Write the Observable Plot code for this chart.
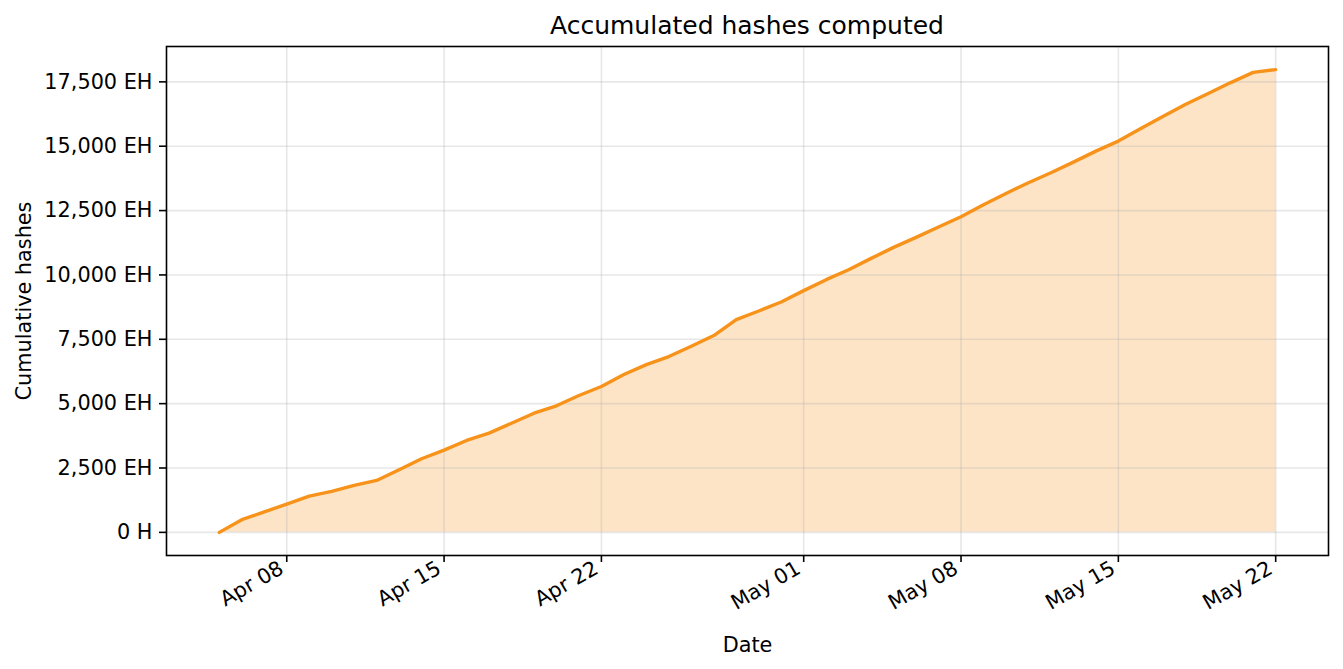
<!DOCTYPE html>
<html>
<head>
<meta charset="utf-8">
<script src="https://cdn.jsdelivr.net/npm/d3@7"></script>
<script src="https://cdn.jsdelivr.net/npm/@observablehq/plot@0.6"></script>
<style>
  html, body { margin: 0; padding: 0; background: #fff; }
  #title {
    box-sizing: border-box;
    width: 1343px;
    height: 41px;
    padding: 11px 15px 0 166px;
    line-height: 30px;
    text-align: center;
    font-family: "DejaVu Sans", sans-serif;
    font-size: 25px;
    color: #000;
  }
</style>
</head>
<body>
<div id="title">Accumulated hashes computed</div>
<div id="chart"></div>
<script>
const dates = [
  "2024-04-05","2024-04-06","2024-04-07","2024-04-08","2024-04-09","2024-04-10","2024-04-11","2024-04-12",
  "2024-04-13","2024-04-14","2024-04-15","2024-04-16","2024-04-17","2024-04-18","2024-04-19","2024-04-20",
  "2024-04-21","2024-04-22","2024-04-23","2024-04-24","2024-04-25","2024-04-26","2024-04-27","2024-04-28",
  "2024-04-29","2024-04-30","2024-05-01","2024-05-02","2024-05-03","2024-05-04","2024-05-05","2024-05-06",
  "2024-05-07","2024-05-08","2024-05-09","2024-05-10","2024-05-11","2024-05-12","2024-05-13","2024-05-14",
  "2024-05-15","2024-05-16","2024-05-17","2024-05-18","2024-05-19","2024-05-20","2024-05-21","2024-05-22"
];
// cumulative hashes, in EH
const cumulativeEH = [
  0, 493, 795, 1098, 1409, 1591, 1824, 2018,
  2432, 2859, 3193, 3570, 3853, 4241, 4629, 4916,
  5316, 5665, 6130, 6518, 6829, 7230, 7644, 8264,
  8600, 8950, 9390, 9816, 10204, 10643, 11070, 11458,
  11860, 12260, 12726, 13165, 13580, 13968, 14383, 14810,
  15200, 15688, 16168, 16633, 17045, 17472, 17870, 17975
];
const xTicks = ["2024-04-08","2024-04-15","2024-04-22","2024-05-01","2024-05-08","2024-05-15","2024-05-22"];
const yTicks = [0, 2500, 5000, 7500, 10000, 12500, 15000, 17500];

const data = dates.map((d, i) => ({date: new Date(d + "T00:00:00Z"), value: cumulativeEH[i]}));
const xt = xTicks.map(d => new Date(d + "T00:00:00Z"));

// matplotlib-like 5% margins
const [x0, x1] = d3.extent(data, d => +d.date);
const xPad = (x1 - x0) * 0.05;
const [y0, y1] = d3.extent(data, d => d.value);
const yPad = (y1 - y0) * 0.05;

const orange = "#F7931A";
const fmtY = d => d === 0 ? "0 H" : d3.format(",")(d) + " EH";

const chart = Plot.plot({
  width: 1343,
  height: 628,
  marginLeft: 166,
  marginRight: 15,
  marginTop: 5,
  marginBottom: 114,
  style: {fontFamily: "DejaVu Sans, sans-serif", fontSize: "20.8px", color: "#000", background: "#fff"},
  x: {type: "utc", domain: [new Date(x0 - xPad), new Date(x1 + xPad)]},
  y: {domain: [y0 - yPad, y1 + yPad]},
  marks: [
    Plot.areaY(data, {x: "date", y: "value", fill: orange, fillOpacity: 0.25}),
    Plot.gridX(xt, {stroke: "#b0b0b0", strokeOpacity: 0.3, strokeWidth: 1.6}),
    Plot.gridY(yTicks, {stroke: "#b0b0b0", strokeOpacity: 0.3, strokeWidth: 1.6}),
    Plot.lineY(data, {x: "date", y: "value", stroke: orange, strokeWidth: 3.4}),
    Plot.frame({stroke: "#000", strokeWidth: 1.6}),
    // tick marks
    Plot.axisX(xt, {
      tickFormat: () => "", tickSize: 7, strokeWidth: 1.6, stroke: "#000", label: null
    }),
    // rotated tick labels, right-aligned like matplotlib
    Plot.axisX(xt, {
      tickFormat: d3.utcFormat("%b %d"), tickRotate: -30, tickSize: 0, tickPadding: 11, dx: -5,
      label: "Date", labelAnchor: "center", labelArrow: "none", labelOffset: 96
    }),
    Plot.axisY(yTicks, {
      tickFormat: fmtY, tickSize: 7, tickPadding: 7, strokeWidth: 1.6, stroke: "#000",
      label: "Cumulative hashes", labelAnchor: "center", labelArrow: "none", labelOffset: 150
    })
  ]
});
document.getElementById("chart").appendChild(chart);
</script>
</body>
</html>
